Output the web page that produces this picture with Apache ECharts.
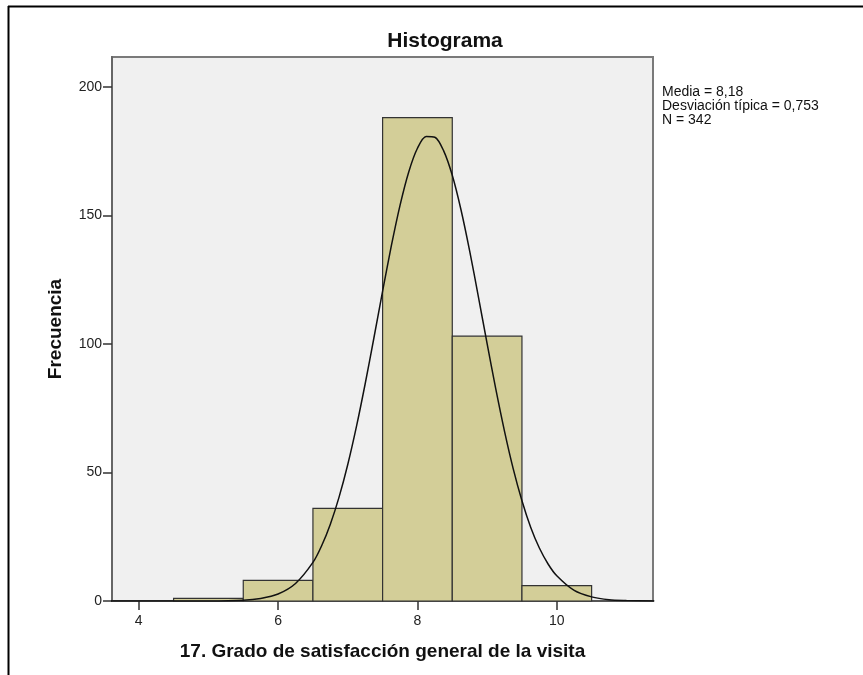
<!DOCTYPE html>
<html>
<head>
<meta charset="utf-8">
<script src="https://cdn.jsdelivr.net/npm/echarts@6.0.0/dist/echarts.min.js"></script>
<style>
  html, body { margin: 0; padding: 0; background: #fff; }
  #main { width: 863px; height: 675px; }
</style>
</head>
<body>
<div id="main"></div>
<script>
// intervalos del histograma (inicio, fin) y frecuencias
var binStart = [4.5, 5.5, 6.5, 7.5, 8.5, 9.5];
var binEnd = [5.5, 6.5, 7.5, 8.5, 9.5, 10.5];
var frecuencia = [1, 8, 36, 188, 103, 6];

// curva normal
var curvaX = [3.6, 4.5, 5.0, 5.5, 5.75, 6.0, 6.25, 6.5, 6.625, 6.75, 6.875, 7.0, 7.125, 7.25, 7.375, 7.5, 7.625, 7.75, 7.875, 8.0, 8.125, 8.25, 8.375, 8.5, 8.625, 8.75, 8.875, 9.0, 9.125, 9.25, 9.375, 9.5, 9.625, 9.75, 9.875, 10.0, 10.25, 10.5, 10.75, 11.0, 11.4];
var curvaY = [0, 0, 0.02, 0.3, 1.0, 2.7, 6.8, 15.0, 21.5, 29.9, 40.4, 53.1, 67.9, 84.5, 102.3, 120.5, 138.1, 153.9, 166.9, 176.1, 180.7, 180.4, 175.2, 165.6, 152.2, 136.1, 118.3, 100.1, 82.4, 66.0, 51.4, 39.0, 28.7, 20.6, 14.4, 9.8, 4.1, 1.6, 0.5, 0.2, 0];

var xTicks = [4, 6, 8, 10];
var yTicks = [0, 50, 100, 150, 200];
var estadisticos = ['Media = 8,18', 'Desviación típica = 0,753', 'N = 342'];

var fuente = 'Liberation Sans, Arial, sans-serif';
var chart = echarts.init(document.getElementById('main'));

var barras = [];
for (var i = 0; i < binStart.length; i++) {
    barras.push([binStart[i], binEnd[i], frecuencia[i]]);
}
var curva = [];
for (var j = 0; j < curvaX.length; j++) {
    curva.push([curvaX[j], curvaY[j]]);
}

var option = {
    backgroundColor: '#fff',
    animation: false,
    title: {
        text: 'Histograma',
        left: 440,
        top: 26,
        textAlign: 'center',
        textStyle: { fontFamily: fuente, fontSize: 21, fontWeight: 'bold', color: '#111' }
    },
    grid: {
        left: 112, top: 57, right: 210, bottom: 74,
        show: true,
        backgroundColor: '#f0f0f0',
        borderColor: '#7a7a7a',
        borderWidth: 2
    },
    xAxis: {
        type: 'value',
        min: 3.616,
        max: 11.381,
        name: '17. Grado de satisfacción general de la visita',
        nameLocation: 'middle',
        nameGap: 41,
        nameTextStyle: { fontFamily: fuente, fontSize: 19, fontWeight: 'bold', color: '#111' },
        axisLine: { show: true, lineStyle: { color: '#555', width: 2 } },
        axisTick: { show: true, length: 9, customValues: xTicks, lineStyle: { color: '#333', width: 1.5 } },
        axisLabel: { customValues: xTicks, margin: 13, fontFamily: fuente, fontSize: 14, color: '#222' },
        splitLine: { show: false }
    },
    yAxis: {
        type: 'value',
        min: 0,
        max: 211.6,
        name: 'Frecuencia',
        nameLocation: 'middle',
        nameGap: 47,
        nameTextStyle: { fontFamily: fuente, fontSize: 19, fontWeight: 'bold', color: '#111' },
        axisLine: { show: true, lineStyle: { color: '#666', width: 2 } },
        axisTick: { show: true, length: 9, customValues: yTicks, lineStyle: { color: '#333', width: 1.5 } },
        axisLabel: { customValues: yTicks, margin: 10, fontFamily: fuente, fontSize: 14, color: '#222' },
        splitLine: { show: false }
    },
    series: [
        {
            type: 'custom',
            data: barras,
            renderItem: function (params, api) {
                var p0 = api.coord([api.value(0), api.value(2)]);
                var p1 = api.coord([api.value(1), 0]);
                return {
                    type: 'rect',
                    shape: { x: p0[0], y: p0[1], width: p1[0] - p0[0], height: p1[1] - p0[1] },
                    style: { fill: '#d3ce98', stroke: '#333', lineWidth: 1.2 }
                };
            },
            z: 2
        },
        {
            type: 'line',
            data: curva,
            smooth: 0.3,
            showSymbol: false,
            lineStyle: { color: '#111', width: 1.5 },
            z: 3
        }
    ],
    graphic: [
        {
            type: 'text',
            left: 662,
            top: 85,
            style: {
                text: estadisticos.join('\n'),
                font: '14px ' + fuente,
                lineHeight: 14,
                fill: '#111'
            }
        },
        {
            type: 'line',
            shape: { x1: 8, y1: 6.5, x2: 863, y2: 6.5 },
            style: { stroke: '#000', lineWidth: 2 }
        },
        {
            type: 'line',
            shape: { x1: 8.5, y1: 6, x2: 8.5, y2: 675 },
            style: { stroke: '#000', lineWidth: 2 }
        }
    ]
};

chart.setOption(option);
</script>
</body>
</html>
